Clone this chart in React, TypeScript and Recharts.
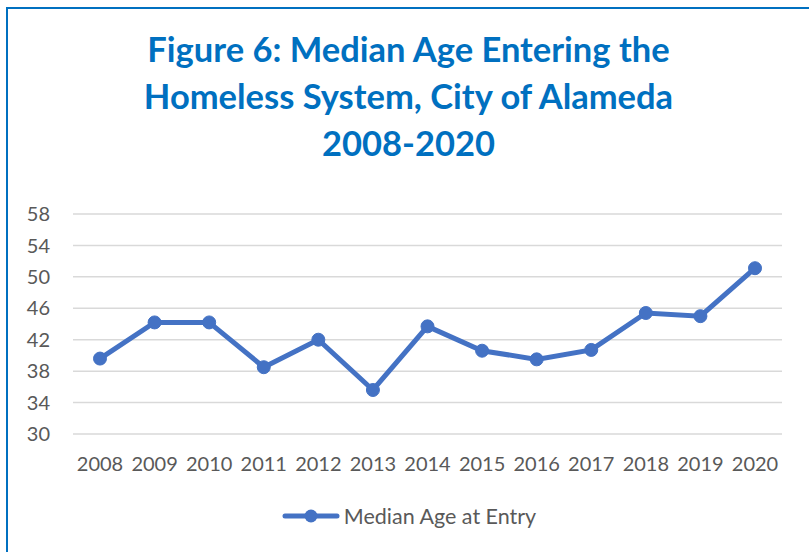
import { LineChart, Line, XAxis, YAxis, CartesianGrid, Legend } from 'recharts';

const years = ['2008', '2009', '2010', '2011', '2012', '2013', '2014', '2015', '2016', '2017', '2018', '2019', '2020'];
const medianAge = [39.6, 44.2, 44.2, 38.5, 42.0, 35.6, 43.7, 40.6, 39.5, 40.7, 45.4, 45.0, 51.1];
const yTicks = [30, 34, 38, 42, 46, 50, 54, 58];

const data = years.map((year, i) => ({ year, age: medianAge[i] }));

const FONT = 'Lato, "Open Sans", sans-serif';
const BLUE = '#4472C4';

function LegendContent() {
  return (
    <div style={{ display: 'flex', alignItems: 'center', justifyContent: 'center', fontFamily: FONT, fontSize: 21.5, color: '#595959', paddingLeft: 36, paddingTop: 17 }}>
      <svg width={58} height={14} style={{ marginRight: 4 }}>
        <line x1={3} y1={7} x2={55} y2={7} stroke={BLUE} strokeWidth={5} strokeLinecap="round" />
        <circle cx={29} cy={7} r={6.5} fill={BLUE} />
      </svg>
      <span>Median Age at Entry</span>
    </div>
  );
}

export default function App() {
  return (
    <div style={{ position: 'fixed', left: 0, top: 0, width: 809, height: 552, overflow: 'hidden', background: '#fff' }}>
      <div style={{ position: 'absolute', left: 6, top: 7, width: 900, height: 700, borderLeft: '2px solid #0070C0', borderTop: '2px solid #0070C0', boxSizing: 'border-box' }} />
      <div style={{ position: 'absolute', left: 0, top: 25, width: 817, textAlign: 'center', fontFamily: FONT, fontWeight: 700, fontSize: 34.5, lineHeight: '47px', color: '#0070C0' }}>
        Figure 6: Median Age Entering the
        <br />
        Homeless System, City of Alameda
        <br />
        2008-2020
      </div>
      <div style={{ position: 'absolute', left: 0, top: 0 }}>
        <LineChart width={809} height={552} data={data} margin={{ top: 214, right: 27, bottom: 14, left: 0 }}>
          <CartesianGrid vertical={false} stroke="#D9D9D9" strokeWidth={1.5} />
          <XAxis
            dataKey="year"
            axisLine={false}
            tickLine={false}
            padding={{ left: 27, right: 27 }}
            tick={{ fill: '#595959', fontSize: 20, fontFamily: FONT }}
            tickMargin={17}
            height={52}
            interval={0}
          />
          <YAxis
            domain={[30, 58]}
            ticks={yTicks}
            axisLine={false}
            tickLine={false}
            width={73}
            tick={{ fill: '#595959', fontSize: 20, fontFamily: FONT }}
            tickMargin={17}
          />
          <Legend verticalAlign="bottom" height={52} content={<LegendContent />} />
          <Line
            type="linear"
            dataKey="age"
            name="Median Age at Entry"
            stroke={BLUE}
            strokeWidth={5}
            dot={{ r: 6.5, fill: BLUE, stroke: BLUE, strokeWidth: 1 }}
            isAnimationActive={false}
          />
        </LineChart>
      </div>
    </div>
  );
}
